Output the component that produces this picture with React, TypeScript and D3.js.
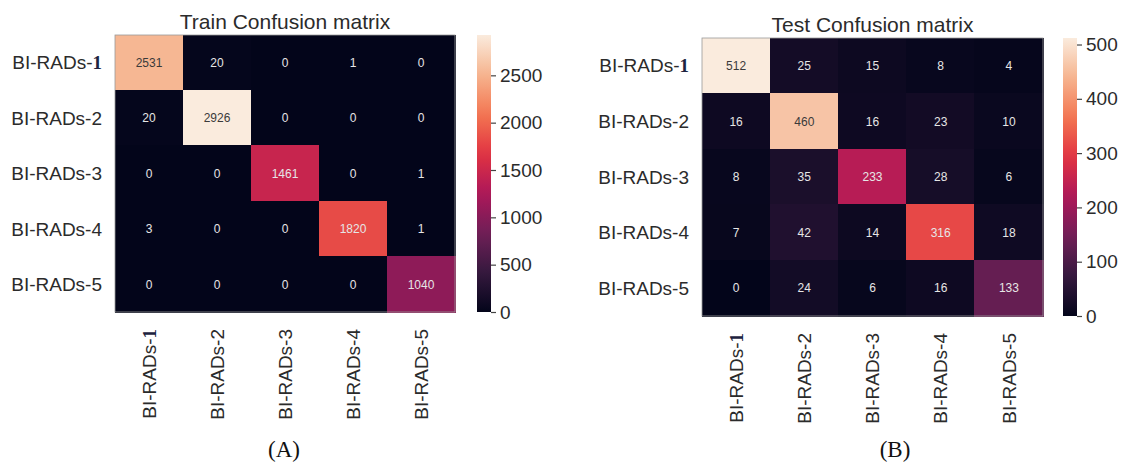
import React, { useRef, useEffect } from 'react';
import * as d3 from 'd3';

const classLabels = ['BI-RADs-1', 'BI-RADs-2', 'BI-RADs-3', 'BI-RADs-4', 'BI-RADs-5'];

// rows = true class, cols = predicted class
const trainMatrix = [
  [2531, 20, 0, 1, 0],
  [20, 2926, 0, 0, 0],
  [0, 0, 1461, 0, 1],
  [3, 0, 0, 1820, 1],
  [0, 0, 0, 0, 1040],
];

const testMatrix = [
  [512, 25, 15, 8, 4],
  [16, 460, 16, 23, 10],
  [8, 35, 233, 28, 6],
  [7, 42, 14, 316, 18],
  [0, 24, 6, 16, 133],
];

const trainTicks = [0, 500, 1000, 1500, 2000, 2500];
const testTicks = [0, 100, 200, 300, 400, 500];

// seaborn "rocket" approximated by a few sampled colours
const rocketStops = ['#03051a', '#35193e', '#701f57', '#ad1759', '#e13342', '#f37651', '#f6b48f', '#faebdd'];

const FONT = "'Liberation Sans', Arial, sans-serif";

const panels = [
  {
    title: 'Train Confusion matrix',
    matrix: trainMatrix,
    ticks: trainTicks,
    caption: '(A)',
    left: 115, right: 455, top: 35, bottom: 312,
    cbarX: 477, titleY: 29, captionX: 284,
  },
  {
    title: 'Test Confusion matrix',
    matrix: testMatrix,
    ticks: testTicks,
    caption: '(B)',
    left: 702, right: 1043, top: 38, bottom: 316,
    cbarX: 1063, titleY: 32, captionX: 895,
  },
];

const App = () => {
  const svgRef = useRef<SVGSVGElement>(null);
  const width = 1127;
  const height = 468;

  useEffect(() => {
    const svg = d3.select(svgRef.current);
    svg.selectAll('*').remove();
    const defs = svg.append('defs');

    const rocketScale = d3
      .scaleLinear<string>()
      .domain(rocketStops.map((_, i) => i / (rocketStops.length - 1)))
      .range(rocketStops)
      .interpolate(d3.interpolateRgb)
      .clamp(true);

    const luminance = (c: string) => {
      const rgb = d3.rgb(c);
      const lin = (v: number) => {
        const x = v / 255;
        return x <= 0.03928 ? x / 12.92 : Math.pow((x + 0.055) / 1.055, 2.4);
      };
      return 0.2126 * lin(rgb.r) + 0.7152 * lin(rgb.g) + 0.0722 * lin(rgb.b);
    };

    panels.forEach((p, pi) => {
      const g = svg.append('g');
      const flat = p.matrix.flat();
      const vmax = d3.max(flat) as number;
      const vmin = d3.min(flat) as number;
      const color = (v: number) => rocketScale((v - vmin) / (vmax - vmin));

      const xScale = d3.scaleBand().domain(classLabels).range([p.left, p.right]);
      const yScale = d3.scaleBand().domain(classLabels).range([p.top, p.bottom]);

      const cells = p.matrix.flatMap((row, r) =>
        row.map((v, c) => ({ row: classLabels[r], col: classLabels[c], v }))
      );

      g.selectAll('rect.cell')
        .data(cells)
        .join('rect')
        .attr('class', 'cell')
        .attr('x', (d) => Math.floor(xScale(d.col) as number))
        .attr('y', (d) => Math.floor(yScale(d.row) as number))
        .attr('width', Math.ceil(xScale.bandwidth()) + 1)
        .attr('height', Math.ceil(yScale.bandwidth()) + 1)
        .attr('shape-rendering', 'crispEdges')
        .attr('fill', (d) => color(d.v));

      g.selectAll('text.annot')
        .data(cells)
        .join('text')
        .attr('class', 'annot')
        .attr('x', (d) => (xScale(d.col) as number) + xScale.bandwidth() / 2)
        .attr('y', (d) => (yScale(d.row) as number) + yScale.bandwidth() / 2)
        .attr('dy', '0.35em')
        .attr('text-anchor', 'middle')
        .attr('font-family', FONT)
        .attr('font-size', 12)
        .attr('fill', (d) => (luminance(color(d.v)) > 0.408 ? '#3a3a3a' : '#e6e6e6'))
        .text((d) => d.v);

      // faint frame like the scanned figure
      g.append('rect')
        .attr('x', p.left)
        .attr('y', p.top)
        .attr('width', p.right - p.left)
        .attr('height', p.bottom - p.top)
        .attr('fill', 'none')
        .attr('stroke', '#9a9a9a')
        .attr('stroke-width', 0.8);

      // title
      g.append('text')
        .attr('x', (p.left + p.right) / 2)
        .attr('y', p.titleY)
        .attr('text-anchor', 'middle')
        .attr('font-family', FONT)
        .attr('font-size', 21)
        .attr('fill', '#2b2b2b')
        .text(p.title);

      const addLabel = (sel: any, label: string) => {
        const m = label.match(/^(.*-)(1)$/);
        if (m) {
          sel.append('tspan').text(m[1]);
          sel.append('tspan')
            .attr('font-family', "'Liberation Serif', 'Times New Roman', serif")
            .attr('font-weight', 'bold')
            .attr('fill', '#1d2340')
            .text(m[2]);
        } else {
          sel.text(label);
        }
      };

      // y axis labels
      classLabels.forEach((lab) => {
        const t = g.append('text')
          .attr('x', p.left - 13)
          .attr('y', (yScale(lab) as number) + yScale.bandwidth() / 2)
          .attr('dy', '0.35em')
          .attr('text-anchor', 'end')
          .attr('font-family', FONT)
          .attr('font-size', 19)
          .attr('fill', '#2b2b2b');
        addLabel(t, lab);
      });

      // x axis labels, rotated
      classLabels.forEach((lab) => {
        const cx = (xScale(lab) as number) + xScale.bandwidth() / 2;
        const t = g.append('text')
          .attr('transform', `translate(${cx},${p.bottom + 17}) rotate(-90)`)
          .attr('dy', '0.35em')
          .attr('text-anchor', 'end')
          .attr('font-family', FONT)
          .attr('font-size', 19)
          .attr('fill', '#2b2b2b');
        addLabel(t, lab);
      });

      // colorbar
      const gradId = `rocket-grad-${pi}`;
      const grad = defs.append('linearGradient')
        .attr('id', gradId)
        .attr('x1', 0).attr('y1', 1).attr('x2', 0).attr('y2', 0);
      d3.range(0, 1.0001, 0.05).forEach((t) => {
        grad.append('stop').attr('offset', t).attr('stop-color', rocketScale(t));
      });
      const cbarW = 14;
      g.append('rect')
        .attr('x', p.cbarX)
        .attr('y', p.top)
        .attr('width', cbarW)
        .attr('height', p.bottom - p.top)
        .attr('fill', `url(#${gradId})`);

      const cScale = d3.scaleLinear().domain([vmin, vmax]).range([p.bottom, p.top]);
      const axis = d3.axisRight(cScale)
        .tickValues(p.ticks)
        .tickFormat(d3.format('d'))
        .tickSize(5)
        .tickPadding(4);
      const ag = g.append('g')
        .attr('transform', `translate(${p.cbarX + cbarW},0)`)
        .call(axis);
      ag.select('.domain').remove();
      ag.selectAll('line').attr('stroke', '#444').attr('stroke-width', 1.2);
      ag.selectAll('text')
        .attr('font-family', FONT)
        .attr('font-size', 19)
        .attr('fill', '#2b2b2b');

      // panel caption
      g.append('text')
        .attr('x', p.captionX)
        .attr('y', 457)
        .attr('text-anchor', 'middle')
        .attr('font-family', "'Liberation Serif', 'Times New Roman', serif")
        .attr('font-size', 23)
        .attr('fill', '#111')
        .text(p.caption);
    });
  }, []);

  return (
    <div style={{ position: 'absolute', left: 0, top: 0, width, height, background: '#fff' }}>
      <svg ref={svgRef} width={width} height={height} viewBox={`0 0 ${width} ${height}`}></svg>
    </div>
  );
};

export default App;
